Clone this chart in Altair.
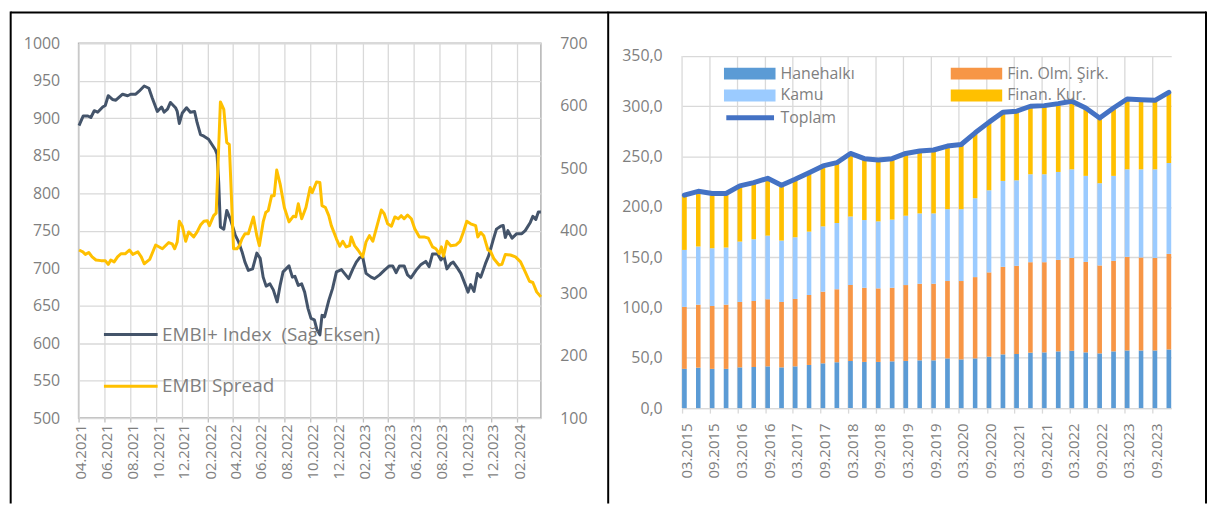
import altair as alt
import pandas as pd

# ---------------- Left panel: EMBI ----------------
INDEX_NAME = "EMBI+ Index\u00a0 (Sağ Eksen)"
SPREAD_NAME = "EMBI Spread"

embi_dates = [
    "2021-04-02", "2021-04-12", "2021-04-23", "2021-04-30", "2021-05-08", "2021-05-16", "2021-05-28", "2021-06-03", "2021-06-10", "2021-06-20",
    "2021-06-28", "2021-07-14", "2021-07-26", "2021-08-02", "2021-08-14", "2021-08-22", "2021-09-03", "2021-09-14", "2021-09-22", "2021-10-04",
    "2021-10-14", "2021-10-20", "2021-10-28", "2021-11-04", "2021-11-16", "2021-11-20", "2021-11-25", "2021-12-02", "2021-12-12", "2021-12-21",
    "2021-12-31", "2022-01-06", "2022-01-14", "2022-01-22", "2022-02-02", "2022-02-10", "2022-02-18", "2022-02-22", "2022-02-26", "2022-03-02",
    "2022-03-10", "2022-03-17", "2022-03-25", "2022-04-02", "2022-04-06", "2022-04-14", "2022-04-22", "2022-04-29", "2022-05-07", "2022-05-17",
    "2022-05-27", "2022-06-04", "2022-06-11", "2022-06-18", "2022-06-27", "2022-07-05", "2022-07-14", "2022-07-21", "2022-07-28", "2022-08-11",
    "2022-08-19", "2022-08-25", "2022-09-02", "2022-09-10", "2022-09-17", "2022-09-25", "2022-10-02", "2022-10-10", "2022-10-16", "2022-10-23",
    "2022-10-28", "2022-11-03", "2022-11-13", "2022-11-22", "2022-12-01", "2022-12-13", "2022-12-20", "2022-12-30", "2023-01-09", "2023-01-17",
    "2023-01-25", "2023-02-01", "2023-02-09", "2023-02-21", "2023-03-01", "2023-03-13", "2023-03-24", "2023-04-05", "2023-04-13", "2023-04-21",
    "2023-04-29", "2023-05-10", "2023-05-18", "2023-05-26", "2023-06-07", "2023-06-19", "2023-06-30", "2023-07-08", "2023-07-16", "2023-07-28",
    "2023-08-05", "2023-08-12", "2023-08-19", "2023-08-28", "2023-09-03", "2023-09-13", "2023-09-21", "2023-10-02", "2023-10-08", "2023-10-14",
    "2023-10-22", "2023-10-30", "2023-11-07", "2023-11-18", "2023-11-26", "2023-12-06", "2023-12-14", "2023-12-24", "2023-12-30", "2024-01-04",
    "2024-01-10", "2024-01-20", "2024-01-31", "2024-02-12", "2024-02-20", "2024-03-03", "2024-03-09", "2024-03-16", "2024-03-22", "2024-03-28",
]
embi_index = [
    890, 903, 903, 901, 910, 908, 915, 917, 930, 925,
    924, 932, 930, 932, 932, 936, 943, 940, 927, 909,
    915, 908, 912, 921, 914, 909, 893, 907, 914, 908,
    909, 894, 878, 876, 872, 865, 858, 852, 814, 755,
    752, 777, 766, 752, 744, 735, 722, 708, 697, 699,
    720, 713, 688, 676, 679, 671, 655, 677, 695, 703,
    688, 689, 677, 679, 668, 646, 633, 631, 618, 611,
    637, 635, 657, 673, 695, 698, 693, 686, 699, 708,
    714, 715, 693, 688, 686, 691, 697, 703, 703, 694,
    703, 703, 691, 687, 697, 705, 709, 702, 719, 719,
    711, 716, 699, 706, 708, 700, 693, 677, 668, 678,
    669, 693, 688, 706, 717, 737, 752, 756, 757, 741,
    750, 740, 746, 746, 750, 761, 769, 765, 775, 775,
]

spread_dates = [
    "2021-04-02", "2021-04-11", "2021-04-17", "2021-04-25", "2021-05-03", "2021-05-12", "2021-05-24", "2021-06-03", "2021-06-10", "2021-06-16",
    "2021-06-24", "2021-07-02", "2021-07-10", "2021-07-20", "2021-07-30", "2021-08-07", "2021-08-19", "2021-08-27", "2021-09-03", "2021-09-16",
    "2021-09-30", "2021-10-16", "2021-10-31", "2021-11-08", "2021-11-14", "2021-11-20", "2021-11-25", "2021-12-02", "2021-12-10", "2021-12-17",
    "2021-12-29", "2022-01-06", "2022-01-14", "2022-01-22", "2022-01-30", "2022-02-04", "2022-02-14", "2022-02-20", "2022-03-02", "2022-03-10",
    "2022-03-17", "2022-03-23", "2022-04-02", "2022-04-10", "2022-04-16", "2022-04-22", "2022-04-29", "2022-05-07", "2022-05-19", "2022-05-27",
    "2022-06-02", "2022-06-11", "2022-06-17", "2022-06-23", "2022-07-01", "2022-07-07", "2022-07-13", "2022-07-21", "2022-07-31", "2022-08-11",
    "2022-08-21", "2022-08-27", "2022-09-02", "2022-09-10", "2022-09-20", "2022-09-30", "2022-10-05", "2022-10-15", "2022-10-23", "2022-10-28",
    "2022-11-05", "2022-11-13", "2022-11-19", "2022-12-01", "2022-12-09", "2022-12-16", "2022-12-24", "2023-01-01", "2023-01-05", "2023-01-13",
    "2023-01-21", "2023-02-01", "2023-02-09", "2023-02-17", "2023-02-25", "2023-03-05", "2023-03-17", "2023-03-24", "2023-04-01", "2023-04-10",
    "2023-04-18", "2023-04-26", "2023-05-03", "2023-05-10", "2023-05-18", "2023-05-27", "2023-06-04", "2023-06-15", "2023-06-26", "2023-07-06",
    "2023-07-16", "2023-07-24", "2023-08-01", "2023-08-06", "2023-08-11", "2023-08-19", "2023-08-28", "2023-09-09", "2023-09-19", "2023-09-27",
    "2023-10-05", "2023-10-14", "2023-10-26", "2023-10-31", "2023-11-07", "2023-11-14", "2023-11-24", "2023-11-30", "2023-12-08", "2023-12-20",
    "2023-12-27", "2024-01-04", "2024-01-16", "2024-01-28", "2024-02-09", "2024-02-20", "2024-03-01", "2024-03-09", "2024-03-18", "2024-03-28",
]
spread_values = [
    369, 366, 362, 365, 358, 353, 352, 352, 346, 353,
    350, 358, 363, 363, 369, 362, 366, 358, 347, 354,
    377, 371, 381, 379, 371, 382, 415, 407, 383, 398,
    390, 398, 409, 415, 416, 408, 424, 428, 606, 594,
    541, 538, 371, 371, 376, 387, 395, 395, 422, 392,
    376, 414, 429, 432, 456, 456, 497, 475, 437, 414,
    423, 422, 443, 419, 437, 469, 461, 478, 477, 440,
    437, 424, 408, 387, 375, 383, 374, 376, 390, 376,
    369, 358, 382, 392, 383, 403, 433, 427, 411, 407,
    422, 419, 424, 419, 425, 419, 403, 390, 390, 388,
    374, 371, 363, 374, 359, 383, 376, 377, 383, 398,
    415, 411, 408, 390, 397, 392, 369, 367, 355, 345,
    346, 362, 361, 358, 350, 334, 319, 317, 302, 294,
]

left_x_ticks = ["04.2021", "06.2021", "08.2021", "10.2021", "12.2021", "02.2022", "04.2022", "06.2022", "08.2022",
                "10.2022", "12.2022", "02.2023", "04.2023", "06.2023", "08.2023", "10.2023", "12.2023", "02.2024"]
left_y_ticks = [500, 550, 600, 650, 700, 750, 800, 850, 900, 950, 1000]
right_y_ticks_left_panel = [100, 200, 300, 400, 500, 600, 700]

# ---------------- Right panel: debt stock ----------------
quarters = [
    "03.2015", "06.2015", "09.2015", "12.2015", "03.2016", "06.2016", "09.2016", "12.2016",
    "03.2017", "06.2017", "09.2017", "12.2017", "03.2018", "06.2018", "09.2018", "12.2018",
    "03.2019", "06.2019", "09.2019", "12.2019", "03.2020", "06.2020", "09.2020", "12.2020",
    "03.2021", "06.2021", "09.2021", "12.2021", "03.2022", "06.2022", "09.2022", "12.2022",
    "03.2023", "06.2023", "09.2023", "12.2023",
]
hanehalki = [39.0, 40.2, 39.0, 39.0, 40.5, 40.9, 41.5, 40.5, 41.5, 42.9, 44.5, 45.5, 46.9, 45.9, 45.9, 46.5, 46.9, 47.5,
             47.5, 49.4, 48.4, 49.4, 51.1, 53.4, 53.8, 55.1, 55.4, 56.4, 57.0, 55.4, 54.4, 56.4, 57.3, 57.3, 57.3, 58.3]
fin_olm_sirk = [61.6, 62.6, 62.5, 63.8, 65.0, 65.6, 66.7, 65.0, 67.0, 69.5, 71.2, 72.6, 75.4, 73.7, 73.1, 73.1, 75.4, 76.1,
                76.1, 76.9, 77.9, 80.8, 83.8, 87.0, 87.6, 89.9, 89.6, 90.9, 92.3, 89.9, 87.4, 89.9, 93.0, 92.4, 92.0, 95.0]
kamu = [56.6, 57.8, 57.4, 56.8, 60.0, 61.3, 63.2, 61.0, 61.3, 63.0, 64.9, 65.8, 68.2, 67.3, 66.6, 67.7, 68.9, 69.9,
        69.9, 71.4, 71.4, 78.4, 81.6, 85.4, 85.0, 87.4, 87.4, 87.4, 88.0, 85.5, 81.7, 84.5, 87.0, 87.6, 88.0, 90.3]
finan_kur = [54.4, 54.9, 54.4, 53.7, 55.4, 56.3, 57.0, 55.0, 57.6, 58.6, 60.1, 60.0, 62.6, 61.0, 61.0, 60.6, 61.9, 62.0,
             63.0, 62.7, 64.3, 65.0, 67.7, 68.2, 68.6, 67.6, 68.2, 67.9, 67.7, 67.5, 64.9, 67.5, 69.9, 69.2, 68.6, 70.2]
# stacking order (bottom to top)
series_names = ["Hanehalkı", "Fin. Olm. Şirk.", "Kamu", "Finan. Kur."]
series_colors = ["#5B9BD5", "#F79646", "#9BCBFF", "#FFC000"]
# legend order (the legend fills its two columns top-down)
legend_names = ["Hanehalkı", "Kamu", "Fin. Olm. Şirk.", "Finan. Kur."]
legend_colors = ["#5B9BD5", "#9BCBFF", "#F79646", "#FFC000"]
TOTAL_NAME = "Toplam"

right_x_ticks = ["03.2015", "09.2015", "03.2016", "09.2016", "03.2017", "09.2017", "03.2018", "09.2018", "03.2019",
                 "09.2019", "03.2020", "09.2020", "03.2021", "09.2021", "03.2022", "09.2022", "03.2023", "09.2023"]
right_y_ticks = [0, 50, 100, 150, 200, 250, 300, 350]

# ---------------- helpers ----------------
LABEL_COLOR = "#7F7F7F"
GRID_COLOR = "#D9D9D9"
FONT = "Open Sans"


def utc_dt(label, day=1):
    m, y = label.split(".")
    return alt.DateTime(year=int(y), month=int(m), date=day, utc=True)


one = pd.DataFrame({"k": [0]})


def frame_rule(**enc):
    return alt.Chart(one).mark_rule(color="black", strokeWidth=2).encode(**enc)


# ---------------- Left chart ----------------
df_idx = pd.DataFrame({"date": embi_dates[:len(embi_index)], "value": embi_index[:len(embi_dates)]})
df_idx["series"] = INDEX_NAME
df_spr = pd.DataFrame({"date": spread_dates[:len(spread_values)], "value": spread_values[:len(spread_dates)]})
df_spr["series"] = SPREAD_NAME

lx_scale = alt.Scale(type="utc", domain=[alt.DateTime(year=2021, month=4, date=1, utc=True),
                                         alt.DateTime(year=2024, month=3, date=28, utc=True)])
lx_axis = alt.Axis(values=[utc_dt(t) for t in left_x_ticks], labelExpr="utcFormat(datum.value, '%m.%Y')",
                   labelAngle=270, labelFontSize=15, grid=True, ticks=True, tickSize=4, tickColor="#BFBFBF",
                   tickWidth=1.3, labelPadding=2, labelOffset=2, labelFlush=False, labelOverlap=False,
                   domain=False, title=None)
stroke_scale = alt.Scale(domain=[INDEX_NAME, SPREAD_NAME], range=["#44546A", "#FFC000"])
left_legend = alt.Legend(orient="none", legendX=24, legendY=283, symbolType="stroke", symbolSize=2916,
                         symbolStrokeWidth=3, labelFontSize=19, labelOffset=3, rowPadding=32, clipHeight=20,
                         padding=0, title=None, labelLimit=400, direction="vertical")

idx_line = alt.Chart(df_idx).mark_line(strokeWidth=3, strokeJoin="round").encode(
    x=alt.X("date:T", scale=lx_scale, axis=lx_axis),
    y=alt.Y("value:Q", scale=alt.Scale(domain=[500, 1000], nice=False, zero=False),
            axis=alt.Axis(orient="left", values=left_y_ticks, format="d", grid=True, labelPadding=19,
                          ticks=False, tickSize=0, domain=False, title=None, labelFontSize=16)),
    stroke=alt.Stroke("series:N", scale=stroke_scale, legend=left_legend),
)
spr_line = alt.Chart(df_spr).mark_line(strokeWidth=3, strokeJoin="round").encode(
    x=alt.X("date:T", scale=lx_scale, axis=lx_axis),
    y=alt.Y("value:Q", scale=alt.Scale(domain=[100, 700], nice=False, zero=False),
            axis=alt.Axis(orient="right", values=right_y_ticks_left_panel, format="d", grid=False,
                          labelPadding=19, ticks=False, tickSize=0, domain=False, title=None, labelFontSize=16)),
    stroke=alt.Stroke("series:N", scale=stroke_scale, legend=left_legend),
)
left_frame = [
    frame_rule(x=alt.value(-68.3), x2=alt.value(532.7), y=alt.value(-31)),
    frame_rule(x=alt.value(-68.3), y=alt.value(-32), y2=alt.value(463)),
    frame_rule(x=alt.value(532.7), y=alt.value(-32), y2=alt.value(463)),
]
left = alt.layer(idx_line, spr_line, *left_frame).resolve_scale(y="independent").properties(
    width=465, height=377, view=alt.ViewBackground(stroke="#B3B3B3", strokeWidth=1.5))

# ---------------- Right chart ----------------
rows = []
for i, q in enumerate(quarters):
    for j, vals in enumerate([hanehalki, fin_olm_sirk, kamu, finan_kur]):
        rows.append({"q": q, "series": series_names[j], "ord": j, "value": vals[i]})
df_bars = pd.DataFrame(rows)
df_grid = pd.DataFrame({"q": right_x_ticks, "lo": 0, "hi": 350})

YR = "toNumber(substring(datum.q, 3, 7))"
MO = "toNumber(substring(datum.q, 0, 2))"
start_expr = f"utc({YR}, {MO} - 1, 1)"
end_expr = f"utc({YR}, {MO}, 1)"
mid_expr = f"utc({YR}, {MO} - 1, 16)"

rx_scale = alt.Scale(type="utc", domain=[alt.DateTime(year=2015, month=3, date=1, utc=True),
                                         alt.DateTime(year=2024, month=1, date=1, utc=True)])
rx_axis = alt.Axis(values=[utc_dt(t) for t in right_x_ticks], labelExpr="utcFormat(datum.value, '%m.%Y')",
                   labelAngle=270, labelFontSize=15, grid=False, ticks=True, tickSize=5, tickColor=GRID_COLOR,
                   tickWidth=1.3, domain=True, domainColor=GRID_COLOR, domainWidth=1.3, labelPadding=10,
                   labelOffset=4, labelFlush=False, labelOverlap=False, title=None)
ry_scale = alt.Scale(domain=[0, 362.6], nice=False, zero=True)
ry_axis = alt.Axis(values=right_y_ticks, labelExpr="replace(format(datum.value, '.1f'), '.', ',')", grid=True,
                   labelPadding=20, ticks=False, tickSize=0, domain=False, title=None, labelFontSize=16)

bar_legend = alt.Legend(orient="none", legendX=42, legendY=22.5, columns=2, columnPadding=96, rowPadding=6,
                        symbolType="M-1,-0.23L1,-0.23L1,0.23L-1,0.23Z", symbolSize=2704, symbolStrokeWidth=0,
                        labelFontSize=16, labelOffset=5, clipHeight=16, padding=0, title=None, symbolOpacity=1)
line_legend = alt.Legend(orient="none", legendX=42, legendY=67, symbolType="stroke", symbolSize=2304,
                         symbolStrokeWidth=5, labelFontSize=16, labelOffset=4, clipHeight=16, padding=0, title=None)

grid_rules = alt.Chart(df_grid).transform_calculate(start=start_expr).mark_rule(
    color=GRID_COLOR, strokeWidth=1.3).encode(
    x=alt.X("start:T", scale=rx_scale, axis=rx_axis),
    y=alt.Y("lo:Q", scale=ry_scale, axis=ry_axis),
    y2="hi:Q",
)
bars = alt.Chart(df_bars).transform_stack(
    stack="value", groupby=["q"], as_=["y0", "y1"], sort=[alt.SortField("ord", order="ascending")]
).transform_calculate(start=start_expr, end=end_expr).mark_rect().encode(
    x=alt.X("start:T", scale=rx_scale, axis=rx_axis),
    x2="end:T",
    y=alt.Y("y0:Q", scale=ry_scale, axis=ry_axis),
    y2="y1:Q",
    fill=alt.Fill("series:N", scale=alt.Scale(domain=legend_names, range=legend_colors), legend=bar_legend),
)
total_line = alt.Chart(df_bars).transform_aggregate(
    total="sum(value)", groupby=["q"]
).transform_calculate(mid=mid_expr, name=f"'{TOTAL_NAME}'").mark_line(
    strokeWidth=5, strokeCap="round", strokeJoin="round").encode(
    x=alt.X("mid:T", scale=rx_scale, axis=rx_axis),
    y=alt.Y("total:Q", scale=ry_scale, axis=ry_axis),
    stroke=alt.Stroke("name:N", scale=alt.Scale(domain=[TOTAL_NAME], range=["#4472C4"]), legend=line_legend),
)
right_frame = [
    frame_rule(x=alt.value(-74), x2=alt.value(527), y=alt.value(-31)),
    frame_rule(x=alt.value(527), y=alt.value(-32), y2=alt.value(463)),
]
right = alt.layer(grid_rules, bars, total_line, *right_frame).properties(width=492, height=367)

chart = alt.hconcat(left, right, spacing=142, bounds="flush").resolve_scale(
    stroke="independent", fill="independent"
).resolve_legend(stroke="independent", fill="independent").properties(
    padding=0, background="white"
).configure(font=FONT).configure_view(stroke="transparent", strokeWidth=0).configure_axis(
    labelFont=FONT, labelColor=LABEL_COLOR, gridColor=GRID_COLOR, gridWidth=1.3
).configure_legend(labelFont=FONT, labelColor=LABEL_COLOR)

chart.save("out.html", embed_options={"renderer": "svg", "actions": False})
